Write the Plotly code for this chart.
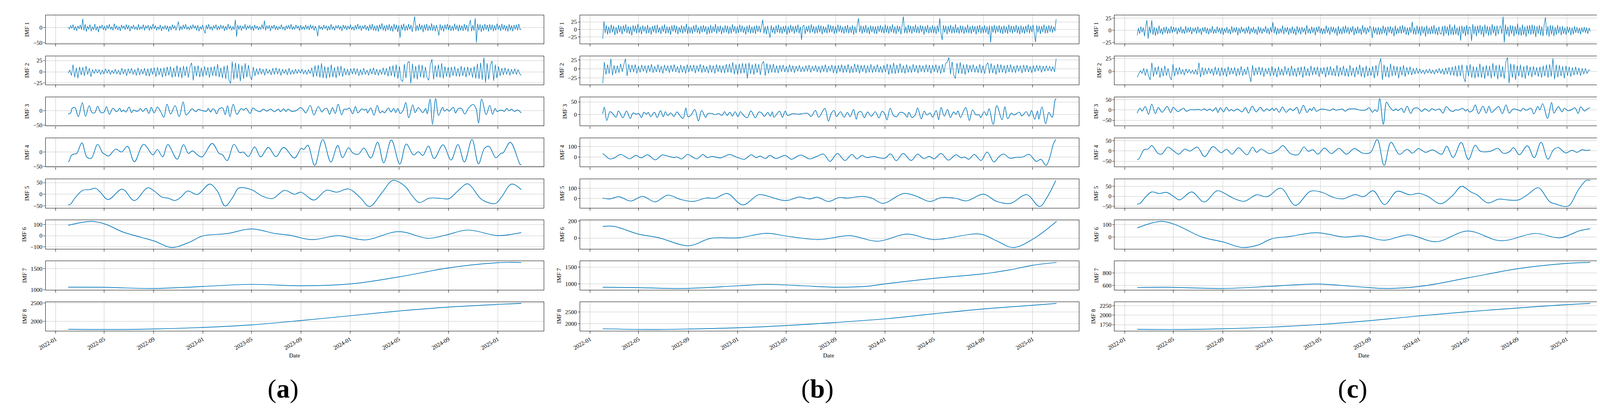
import pandas as pd
import plotly.graph_objects as go

# daily series, 2022-02-01 .. 2025-02-28
start = pd.Timestamp("2022-02-01")
end = pd.Timestamp("2025-02-28")

date_ticks = ["2022-01", "2022-05", "2022-09", "2023-01", "2023-05", "2023-09",
              "2024-01", "2024-05", "2024-09", "2025-01"]
imf_names = ["IMF 1", "IMF 2", "IMF 3", "IMF 4", "IMF 5", "IMF 6", "IMF 7", "IMF 8"]
panel_names = ["a", "b", "c"]

# ---------------- panel (a) ----------------
# IMF 1 / IMF 2: evenly spaced samples over the whole period
a_imf1 = [2, -5, 7, -3, 10, -8, 4, -11, 6, -4, 9, -7, 29, -9, 11, -13, 5, -6, 10, -12, 3, -7, 12, -9, 4,
          -15, 6, -3, 9, -7, 5, -10, 8, -4, 11, -6, 3, -9, 13, -5, 7, -8, 4, -11, 9, -3, 6, -7, 10, -5,
          8, -12, 5, -4, 9, -6, 3, -8, 11, -7, 4, -5, 10, -9, 6, -3, 8, -10, 5, -6, 12, -4, 7, -9, 3,
          -6, 9, -11, 4, -5, 8, -7, 6, -13, 5, -8, 10, -4, 7, -9, 6, 20, -10, 5, -7, 9, -4, 11, -6, 3,
          -8, 7, -5, 10, -3, 6, -9, 8, -12, 4, -6, 9, -7, -19, 8, -5, 11, -6, 4, -9, 7, -3, 10, -8, 5,
          -6, 9, -4, 7, -11, 5, -8, 12, -5, 6, -9, 4, -7, 26, -30, 9, -6, 7, -10, 5, -4, 11, -8, 6, -3,
          8, -7, 5, -10, 9, -4, 6, -8, 3, -6, 10, -5, 23, -9, 7, -4, 8, -11, 6, -3, 9, -7, 5, -8, 4,
          -5, 10, -6, 3, -9, 7, -4, 8, -5, 11, -7, 4, -6, 9, -3, 5, -10, 8, -6, 4, -7, 9, -5, 6, -8,
          10, -4, 7, -9, 5, -6, -28, 8, -5, 3, -7, 9, -4, 6, -10, 5, -8, 11, -6, 4, -9, 7, -3, 8, -6,
          5, -11, 9, -4, 7, -8, 6, -5, 10, -7, 3, -9, 8, -6, 12, -5, 7, -10, 6, -4, 9, -8, 5, -11, 10,
          -7, 12, -9, 6, -11, 8, -13, 10, -6, 14, -9, 7, -12, 9, -8, 11, -10, 6, -13, 12, -7, 9, -14, 8, -33,
          10, -8, 13, -11, 7, -9, 12, -6, 9, -14, 11, 37, -12, 8, -10, 13, -7, 9, -15, 10, -8, 12, -11, 7, -9,
          14, -10, 8, -12, 9, -7, -26, 11, -9, 7, -13, 10, -6, 12, -8, 9, -11, 6, -10, 13, -7, 8, -12, 10, -9,
          7, -11, 12, -8, 9, -13, 10, 25, -12, 8, -10, 31, -49, 13, -9, 11, -14, 8, -10, 12, -7, 9, -13, 11, -8,
          10, -12, 7, -9, 13, -6, 8, -11, 12, -7, 9, -10, 6, -13, 11, -8, 7, -12, 9, -6, 10, -9, 12, -7, -4]
a_imf2 = [-3, 4, -8, 16, -12, 9, -14, 11, -7, 10, -9, 13, -6, 8, -11, 5, -4, 6, -3, 5, -6, 4, -5, 7, -3,
          5, -6, 3, -4, 6, -5, 4, -7, 8, -5, 6, -9, 7, -4, 8, -6, 5, -8, 9, -7, 6, -5, 8, -9, 7,
          -10, 8, -6, 9, -11, 10, -7, 8, -12, 9, -10, 11, -8, 12, -13, 9, -11, 14, -12, 10, -14, 13, -9, 12, -13,
          11, 20, -19, 13, -10, 14, -12, 9, -11, 12, -8, 10, -13, 11, -9, 12, -10, 17, -12, 9, -14, 13, -16, 15, -18,
          -26, 23, -17, 20, -15, 18, -21, 14, -16, 19, -12, 15, -10, -18, 11, -9, 7, -6, 8, -5, 6, -8, 7, -4, 5,
          -7, 8, -6, 9, -5, 7, -8, 6, -4, 5, -7, 8, -6, 4, -5, 6, -4, 5, -3, 6, -5, 4, -6, 5, -4,
          9, -12, 14, -10, 15, -13, 19, -14, 12, -15, 11, -13, 16, -12, 10, -14, 12, -9, 13, -11, 8, -7, 6, -8, 7,
          -5, 8, -6, 7, -9, 5, -7, 8, -6, 4, -8, 7, -5, 9, -7, 6, -8, 5, -6, 9, -7, 8, -10, 12, -9,
          14, -12, 16, -15, 12, -18, -22, 17, -14, 20, 23, -26, 18, -15, 13, -17, 16, -12, 15, -14, 11, -13, -19, 16, 28,
          -17, 14, -12, 16, -13, 19, -15, 12, -11, 10, -13, 11, -9, 12, -10, 8, -11, 13, -9, 10, -12, 11, -8, 9, -13,
          12, -15, 18, -16, 20, -18, 32, -24, 19, -17, 15, 24, -20, 16, -14, 12, -9, 8, -7, 9, -6, 7, -8, 6, -5,
          7, -6, 5, -4, -8]
# IMF 3..8: (day since 2022-02-01, value) at turning points
a_imf3 = [(0, -12), (6, -8), (10, 8), (17, 10), (25, -21), (35, 27), (43, -20), (52, 17), (59, -7), (66, -7),
          (73, 15), (81, -7), (89, -5), (95, 14), (102, -13), (111, 8), (120, -4), (128, 8), (132, -4), (137, 2),
          (143, -5), (151, 12), (157, -7), (162, 2), (168, -2), (174, -1), (179, 7), (185, -3), (193, 8), (200, -10),
          (206, 11), (213, -8), (221, 12), (229, -3), (237, -23), (245, 22), (254, -12), (265, 17), (275, -21), (285, 30),
          (292, -15), (299, -7), (307, 6), (317, -4), (322, 4), (332, 0), (343, -2), (347, 7), (353, -5), (358, 6),
          (362, 4), (368, -11), (374, 6), (383, 9), (389, -14), (395, 17), (401, -21), (409, 22), (418, -13), (429, 7),
          (435, 2), (441, 8), (451, -10), (458, 9), (465, 2), (475, -4), (484, 5), (492, -2), (502, 5), (511, -4),
          (521, 5), (526, -4), (534, 6), (540, -3), (545, 5), (553, -2), (564, -1), (576, 10), (582, 4), (589, -8),
          (600, 18), (609, -15), (620, 14), (629, -5), (634, 4), (641, 8), (648, -13), (655, 10), (662, -10), (669, 22),
          (678, -15), (684, 5), (691, 4), (697, 9), (705, -11), (712, 14), (718, -8), (728, 6), (734, 2), (739, 5),
          (742, -8), (750, 9), (758, -16), (766, 18), (773, -8), (779, -2), (784, -8), (794, 9), (800, -5), (807, 7),
          (812, -7), (817, 7), (823, -10), (830, 0), (837, 28), (844, -25), (854, 20), (860, -7), (868, 10), (879, -7),
          (886, 7), (890, -11), (897, 39), (903, -48), (911, 42), (918, -17), (928, 11), (933, -2), (939, 5), (944, -2),
          (955, 11), (960, -8), (967, 7), (975, 7), (983, -12), (993, 10), (1004, 21), (1011, 7), (1017, -43), (1025, 40),
          (1036, -14), (1045, 18), (1052, -13), (1058, 7), (1063, -3), (1070, 1), (1076, 1), (1081, -3), (1087, 7), (1093, -1),
          (1099, 5), (1106, -3), (1114, 2), (1123, -8)]
a_imf4 = [(0, -34), (2, -32), (8, -12), (14, -7), (21, -5), (34, 32), (46, -17), (57, -22), (73, 27), (85, -2),
          (92, -9), (100, -14), (118, 10), (132, 0), (147, 20), (164, -34), (187, 27), (210, -10), (221, 9), (234, -17),
          (247, 26), (270, -25), (286, 26), (298, -5), (308, 4), (322, -12), (332, -17), (357, 30), (374, -5), (382, -9),
          (394, -30), (411, 27), (425, -2), (434, 0), (447, -16), (462, 18), (477, -17), (496, 16), (515, -16), (534, 16),
          (561, -21), (578, 13), (584, 9), (594, 24), (611, -47), (631, 44), (651, -35), (668, 23), (680, -20), (695, 15),
          (706, -4), (720, -7), (733, 14), (750, -21), (767, 34), (782, -38), (801, 42), (822, -42), (838, 28), (856, -10),
          (868, 1), (879, -12), (893, 21), (907, -23), (929, 25), (949, -28), (966, 26), (982, -35), (1001, 44), (1017, -41),
          (1032, 13), (1043, 20), (1060, -20), (1072, -5), (1078, -3), (1096, 34), (1120, -43), (1123, -45)]
a_imf5 = [(0, -45), (5, -44), (16, -18), (36, 17), (53, 20), (68, 26), (79, 10), (99, -23), (134, 22), (164, -27),
          (197, 28), (214, 13), (233, -13), (248, -17), (265, -27), (279, -13), (296, 14), (320, -1), (351, 44), (370, 13),
          (389, -51), (408, -13), (423, 27), (454, 20), (481, -8), (507, -18), (536, 17), (561, 0), (577, 9), (609, -25),
          (640, 17), (666, 9), (695, 23), (723, -13), (747, -53), (777, 5), (805, 60), (834, 36), (853, -7), (870, -36),
          (895, -17), (925, -18), (944, -19), (967, 16), (990, 45), (1026, -24), (1059, -40), (1074, -12), (1099, 44),
          (1123, 20)]
a_imf6 = [(0, 93), (58, 128), (93, 102), (136, 33), (213, -47), (256, -105), (299, -60), (333, -2), (394, 19),
          (454, 61), (514, 19), (548, 5), (604, -35), (669, 0), (737, -37), (819, 37), (892, -23), (935, 5),
          (991, 51), (1064, 2), (1123, 28)]
a_imf7 = [(0, 1062), (93, 1058), (213, 1030), (333, 1078), (454, 1128), (583, 1094), (703, 1140), (823, 1310),
          (944, 1520), (1064, 1640), (1095, 1648), (1123, 1645)]
a_imf8 = [(0, 1779), (110, 1772), (213, 1786), (333, 1829), (454, 1900), (578, 2021), (703, 2157), (823, 2286),
          (944, 2393), (1064, 2464), (1123, 2493)]
a_yticks = [[-50, 0], [-25, 0, 25], [-50, 0], [-50, 0], [-50, 0, 50], [-100, 0, 100], [1000, 1500], [2000, 2500]]

# ---------------- panel (b) ----------------
b_imf1 = [-31, 27, -12, 14, -17, 9, -13, 16, -10, 12, -19, 8, -14, 15, -9, 11, -16, 13, -7, 17, -12, 10, -15, 9, -20,
          14, -8, 12, -13, 18, -11, 9, -16, 13, -7, 10, -14, 15, -12, 8, -17, 11, -9, 14, -13, 16, -10, 7, -15, 12,
          -8, 17, -14, 10, -12, 9, -18, 13, -7, 15, -11, 12, -16, 8, -10, 14, -13, 11, -9, 19, -15, 10, -12, 8, -14,
          13, -9, 16, -11, 7, -15, 12, -10, 14, -8, 11, -17, 9, -13, 15, -12, 10, -8, 18, -14, 11, -9, 13, -16, 8,
          -11, 14, -10, 12, -15, 9, -13, 17, -8, 11, -14, 10, -12, 16, -9, 13, -11, 8, -17, 12, -10, 15, -13, 9, -12,
          11, -15, 14, -8, 12, -10, 9, 32, -13, 10, -16, 12, -9, -27, 14, -11, 8, -15, 13, -10, 16, -12, 9, -14, 11,
          -9, 13, -17, 10, -12, 15, -8, 11, -14, 12, -10, 16, -13, 9, -34, 11, 14, -15, 10, -8, 13, -12, 17, -9, 11,
          -14, 10, -12, 15, -9, 13, -16, 11, -10, 8, -13, 17, -11, 14, -9, 12, -15, 10, -12, 16, -8, 13, -11, 9, -14,
          12, -10, 15, -13, 9, -11, 14, -17, 10, -12, 16, 37, -9, 13, -14, 11, -10, 15, -12, 8, -16, 13, -9, 11, -13,
          10, -15, 12, -8, 14, -11, 9, -13, 16, -10, 12, -14, 11, -9, 17, -12, 10, -15, 13, -8, 11, -16, 14, 43, -12,
          9, -13, 15, -10, 12, -14, 11, -9, 16, -12, 10, -13, 14, -8, 12, -17, 11, -10, 15, -13, 9, -11, 14, -12, 10,
          -15, 13, -9, 37, -12, -35, 14, -10, 12, -16, 11, -9, 15, -13, 10, -12, 17, -11, 8, -14, 13, -10, 12, -15, 9,
          -11, 16, -12, 10, -14, 13, -9, 11, -16, 12, -10, 15, -13, 9, -12, 14, -11, 10, -17, 13, -43, 12, -10, 15, -13,
          11, -9, 14, -12, 10, -15, 13, -11, 9, -14, 16, -10, 12, -13, 11, -9, 15, -12, 10, -16, 13, -11, 9, -14, 12,
          -10, 17, -13, 11, -9, 15, -12, -42, 14, -10, 12, -15, 11, -9, 16, -13, 10, -12, 14, -8, 13, -11, 9, -6, 34]
b_imf2 = [-41, 19, -16, 12, -14, 28, -18, 10, -13, 9, -11, 14, -8, 12, 28, -20, 13, -10, 11, -9, 12, -13, 8, -10, 11,
          -7, 9, -12, 10, -8, 13, -11, 7, -9, 12, -10, 8, -13, 11, -6, 9, -11, 10, -8, 12, -9, 7, -12, 11, -10,
          8, -13, 12, -9, 10, -7, 11, -12, 9, -8, 13, -11, 10, -9, 7, -12, 11, -10, 9, -13, 12, -8, 10, -11, 9,
          -12, 13, -10, 14, -11, 18, -15, 12, -16, 14, -13, 16, -12, 15, -27, 17, -14, 12, -16, 15, -11, 13, -17, 14, 21,
          -19, 15, -13, 12, -10, 14, -11, 9, -12, 10, -8, 11, -9, 7, -10, 12, -8, 9, -11, 8, -7, 10, -9, 6, -8,
          9, -7, 11, -10, 8, -6, 10, -9, 7, -11, 9, -8, 12, -10, 8, -7, 11, -12, 9, -13, 10, -8, 12, -11, 9,
          -10, 13, -12, 8, -11, 14, -9, 12, -13, 10, -8, 11, -12, 9, -10, 13, -11, 8, -9, 12, -10, 7, -11, 10, -9,
          14, -16, 12, -13, 17, -14, 11, -12, 15, -11, 9, -13, 12, -10, 8, -11, 13, -9, 10, -12, 11, -8, 9, -10, 12,
          -9, 11, -13, 10, -8, 12, -11, 9, -14, 13, -10, 15, 19, 32, -15, 20, -18, -27, 16, -13, 18, -14, 12, -16, 13,
          -11, 10, -9, 12, -10, 8, -11, 13, -12, 9, -14, 11, 17, -13, 15, -12, 10, -16, 14, -11, 12, -10, 9, -13, 11,
          -9, 12, -10, 8, -11, 10, -7, 9, -12, 11, -8, 10, -9, 7, -11, 9, -8, 10, -6, 9, -10, 8, -7, 9, -6,
          8, -7, 6, -9, 28]
b_imf3 = [(0, 3), (4, 29), (10, -24), (18, 11), (25, 3), (33, -11), (39, 14), (50, -13), (59, 14), (68, -16),
          (75, 6), (83, 1), (89, 4), (96, -12), (102, 9), (108, 1), (113, 8), (119, -9), (128, 9), (135, -12),
          (143, 15), (150, -9), (155, 11), (161, -4), (169, 6), (176, -8), (184, 10), (190, -2), (199, -16), (206, 26),
          (211, -9), (218, -4), (228, 20), (237, -26), (245, 16), (255, -12), (260, 3), (270, 4), (279, -1), (287, 4),
          (295, -4), (302, 11), (308, -4), (315, 9), (321, -7), (328, 11), (335, -9), (341, 11), (349, -4), (358, -13),
          (367, 14), (378, -13), (387, 10), (395, 4), (400, -8), (409, 8), (415, -7), (420, 11), (424, -11), (438, 13),
          (445, -11), (452, 13), (458, -4), (470, 3), (485, 1), (497, 4), (508, 4), (516, -8), (527, 16), (535, -11),
          (550, 24), (559, -27), (566, 4), (573, 16), (579, -8), (589, 11), (598, -11), (606, 8), (613, -9), (621, 20),
          (628, -19), (633, 8), (640, 11), (648, -13), (656, 10), (665, -7), (675, 11), (684, -14), (692, 13), (699, 1),
          (704, -22), (712, 25), (720, -4), (728, -9), (736, 8), (747, 4), (754, -11), (758, 9), (766, -12), (774, -2),
          (780, 26), (789, -18), (796, 13), (803, -2), (811, 6), (817, -11), (826, 16), (832, -21), (838, 28), (846, -7),
          (854, 20), (861, -12), (869, 10), (875, 1), (880, 14), (886, -12), (899, 28), (908, -24), (916, 18), (924, -1),
          (933, -2), (936, -13), (945, 11), (951, -4), (957, 23), (967, -40), (976, 35), (989, -21), (996, 31), (1003, -17),
          (1012, 5), (1019, -2), (1032, 9), (1038, -6), (1049, 11), (1056, -7), (1062, 16), (1070, -19), (1077, 14), (1080, -19),
          (1088, 30), (1097, -37), (1105, 8), (1113, -11), (1120, 55), (1123, 64)]
b_imf4 = [(0, 34), (6, 16), (17, -18), (29, -8), (44, 25), (67, -17), (82, 16), (95, -8), (111, 22), (130, -27),
          (147, 19), (158, 13), (177, -5), (183, 1), (196, -18), (210, 25), (233, -18), (248, 24), (259, -5), (271, 6),
          (292, -8), (314, 24), (334, -5), (351, -21), (368, 22), (380, -6), (390, 10), (403, -15), (414, 16), (429, -15),
          (452, 16), (467, -21), (490, 19), (513, -18), (530, 6), (547, 28), (563, -42), (581, 34), (600, -33), (617, 25),
          (630, -18), (642, 16), (654, -5), (671, 6), (682, -5), (699, -11), (713, 30), (727, -35), (744, 34), (764, -33),
          (780, 28), (795, -15), (809, 6), (821, -17), (838, 34), (856, -30), (875, 22), (888, -8), (896, 0), (907, -21),
          (920, 25), (937, -33), (952, 48), (969, -47), (982, 6), (994, 28), (1008, -11), (1025, -2), (1040, 0), (1056, 25),
          (1074, -42), (1085, -21), (1098, -81), (1107, -8), (1116, 124), (1122, 169)]
b_imf5 = [(0, 5), (17, -4), (40, 18), (69, -25), (99, 21), (130, -33), (161, 34), (192, -8), (224, -29), (257, 6),
          (279, 3), (308, 50), (347, -63), (386, 38), (405, 28), (443, -16), (459, -18), (487, 15), (512, -4), (531, 13),
          (560, -29), (585, 10), (606, 5), (644, 21), (667, 3), (694, -48), (745, 50), (774, 28), (810, -29), (838, 9),
          (873, 3), (901, -23), (943, 43), (976, -29), (1010, -48), (1050, 38), (1082, -79), (1101, 15), (1122, 180)]
b_imf6 = [(0, 138), (28, 138), (88, 47), (139, 3), (213, -91), (268, -3), (337, 3), (406, 56), (458, 21),
          (535, -18), (612, 27), (681, -38), (754, 47), (819, -18), (935, 47), (974, -30), (1017, -112), (1068, -5),
          (1124, 197)]
b_imf7 = [(0, 902), (96, 886), (200, 864), (337, 947), (406, 985), (492, 947), (578, 902), (655, 930),
          (699, 1000), (820, 1167), (943, 1303), (1008, 1420), (1066, 1560), (1124, 1644)]
b_imf8 = [(0, 1787), (114, 1755), (217, 1777), (337, 1830), (458, 1926), (578, 2053), (703, 2213), (823, 2426),
          (944, 2628), (1068, 2787), (1124, 2862)]
b_yticks = [[-25, 0, 25], [-25, 0, 25], [0, 50], [0, 100], [0, 100], [0, 200], [1000, 1500], [2000, 2500]]

# ---------------- panel (c) ----------------
c_imf1 = [-10, 5, -7, 8, -4, 6, -12, 9, 21, -17, 8, -6, 21, -9, 7, -11, 5, -8, 10, -6, 4, -9, 7, -5, 8,
          -7, 4, -6, 9, -5, 7, -3, 6, -8, 5, -4, 8, -6, 3, -7, 9, -5, 6, -4, 7, -8, 5, -3, 6, -7,
          8, -5, 4, -9, 6, -3, 7, -6, 5, -8, 4, -5, 9, -7, 3, -6, 8, -4, 5, -7, 6, -9, 4, -5, 7,
          -6, 3, -8, 9, -5, 6, -4, 7, -10, 5, -6, 8, -3, 4, -7, 6, -5, 9, -8, 5, -4, 7, -6, 3, -9,
          8, -5, 6, -7, 4, -3, 9, -6, 5, -8, 7, -4, 17, -6, 8, -9, 5, -7, 4, -5, 10, -8, 6, -4, 7,
          -9, 5, -6, 8, -7, 4, -10, 9, -5, 6, -8, 7, -4, 5, -9, 11, -6, 4, -7, 8, -5, 6, -10, 7, -4,
          9, -6, 5, -8, 4, -7, 10, -5, 6, -9, 8, -4, 7, -6, 5, -11, 9, -7, 4, -8, 8, -6, 10, -5, 7,
          -8, 6, -4, 9, -10, 5, -7, 8, -6, 4, -9, 11, -5, 7, -8, 6, -4, 9, 5, -16, 8, -6, 6, -9, 7,
          -9, 5, -8, 10, -6, 7, -11, 8, -5, 9, -7, 6, -12, 10, -8, 5, -6, 9, -7, 11, -5, 8, -9, 6, -10,
          7, -5, 18, -8, 6, -9, 10, -7, 8, -11, 9, -6, 7, -13, 10, -8, 6, -8, 9, -7, 11, -8, 5, -10, 8,
          -6, -8, 9, -12, 10, -7, 8, -11, 13, -9, 7, -10, 12, -8, 6, -11, 9, -21, 10, -7, 8, -12, 11, -9, 7,
          6, -22, 13, -8, 9, -12, 10, -6, 11, -9, 8, -14, 12, -7, 9, -11, 8, -10, 13, -6, 9, -12, 10, -8, 7,
          9, -7, 29, -25, 12, -9, 8, -13, 11, -7, 10, -12, 9, -8, 14, -10, 7, -11, 12, -9, 8, -13, 10, -7, 11,
          -9, 12, -8, 10, -14, 9, -7, 11, -10, 8, -12, 13, 27, -10, 9, -13, 11, -8, 10, -12, 7, -9, 11, -6, 8,
          -10, 9, -7, 6, -9, 8, -5, 7, -10, 6, -8, 9, -5, 7, -6, 5, -8, 6, -4, 7, -5, 6, -7, 5, -2]
c_imf2 = [-11, -5, 2, -4, 6, -8, 5, -9, -16, 17, -10, 8, -6, 10, -12, 7, -9, 11, -8, 6, -10, -16, 14, -9, 7,
          -6, 8, -5, 4, -7, 5, -3, 4, -4, 3, -5, 4, -6, 17, -11, 8, -7, 6, -5, 7, -4, 5, -8, 9, -6,
          7, -9, 8, -7, 6, -10, 9, -6, 7, -5, 8, -9, 6, -7, 10, -8, 5, -6, 9, -7, -20, 12, -8, 7, -6,
          9, -7, 8, -10, 6, -5, 7, -9, 10, -8, 6, -11, 9, -7, 5, -8, 10, -6, 7, -9, 11, -8, 6, -10, 8,
          -7, 9, -12, 10, -8, 6, -9, 11, -7, 8, -6, 9, -10, 7, -5, 8, -11, 9, -7, 10, -8, 6, -9, 12, -10,
          8, -7, 11, -9, 6, -10, 12, -8, 7, -11, 9, -6, 13, -10, 8, -12, 11, -9, 7, -8, 10, -13, 12, -9, 14,
          25, -16, 13, -10, 9, -12, 15, -9, 11, -8, 10, -13, 9, -7, 12, -10, 8, -6, 9, -7, 6, -5, 7, -4, 5,
          -4, 3, -5, 4, -3, 5, -4, 3, -5, 4, -3, 6, -4, 5, -6, 7, -5, 8, -7, 9, -8, 11, -10, 12, -9,
          13, -11, -20, 12, -9, 14, -12, 10, -13, 9, -11, 15, -12, 10, -14, 12, -9, 11, -13, 16, -10, 12, -15, 13, -11,
          10, -14, 18, 27, -23, 15, -12, 14, -16, 11, -9, 13, -12, 10, -14, 12, -8, 9, -11, 10, -7, 8, -10, 9, -12,
          11, -9, 13, -12, 14, -10, 25, -15, 13, -11, 12, -9, 10, -13, 11, -8, 9, -10, 8, -7, 9, -6, 7, -8, 6,
          -5, 6, -4, 3, 2]
c_imf3 = [(0, -15), (7, 9), (12, -5), (20, 17), (28, -21), (36, 29), (45, -18), (52, 12), (62, -11), (74, 18),
          (83, -13), (89, 13), (101, -8), (108, 1), (115, 9), (121, -6), (131, 1), (142, 1), (152, 3), (159, -1),
          (167, 6), (173, -3), (180, 5), (187, -5), (195, 11), (200, -12), (206, 11), (214, -9), (221, 13), (228, -5),
          (233, 3), (239, -5), (248, 5), (260, -9), (268, 12), (276, -15), (285, 19), (295, -9), (305, 13), (314, -6),
          (321, 6), (328, -3), (335, 9), (339, -3), (344, 9), (352, -11), (360, 15), (369, -11), (379, 7), (386, -3),
          (396, 13), (402, -18), (412, 23), (421, -12), (428, 7), (432, -3), (438, 13), (444, -7), (451, 1), (457, 5),
          (470, 1), (478, -3), (485, 6), (493, -1), (508, 5), (516, -6), (522, 3), (539, 6), (554, -1), (566, 0),
          (575, 11), (583, -11), (589, 1), (595, -7), (601, 57), (610, -71), (618, 39), (625, 17), (635, -3), (641, 6),
          (646, -3), (655, 9), (661, -12), (669, 19), (678, -17), (685, 7), (696, 9), (705, -7), (713, 6), (724, -6),
          (730, 7), (739, -1), (749, 5), (758, -15), (766, 17), (776, -3), (783, -7), (789, 1), (796, -1), (807, 9),
          (814, -5), (819, 3), (823, -9), (831, -3), (838, 25), (846, -18), (857, 19), (865, -15), (872, 19), (878, -12),
          (888, 5), (896, 17), (905, -18), (914, 25), (922, -15), (932, 5), (943, 1), (951, -5), (956, 9), (964, -1),
          (976, 9), (983, -19), (993, 17), (998, 1), (1005, 31), (1017, -41), (1027, 37), (1033, -15), (1044, 17), (1053, -9),
          (1059, 9), (1067, -3), (1076, 1), (1085, 11), (1093, -17), (1099, 15), (1109, -5), (1116, 6), (1123, 11)]
c_imf4 = [(0, -42), (4, -39), (17, 6), (27, 9), (36, 26), (52, -13), (61, -15), (76, 18), (89, 2), (103, -16),
          (118, 9), (130, -1), (149, 18), (167, -28), (188, 21), (208, -9), (221, 8), (235, -16), (251, 15), (272, -19),
          (286, 18), (296, -7), (307, 9), (328, -13), (349, 5), (361, 26), (380, -13), (399, -18), (413, 19), (424, -2),
          (435, 6), (448, -16), (464, 14), (481, -13), (500, 12), (519, -16), (538, 11), (559, -11), (578, -8), (595, 56),
          (612, -71), (629, 42), (650, -17), (669, 8), (682, -11), (697, 11), (715, -7), (732, 5), (755, -16), (767, 23),
          (783, -32), (803, 41), (821, -42), (838, 28), (850, -1), (873, -3), (894, 12), (907, -11), (922, -5), (933, 16),
          (947, -19), (967, 25), (984, -33), (1001, 42), (1018, -40), (1032, 6), (1044, 16), (1062, -10), (1078, 3), (1090, -7),
          (1103, 6), (1113, 2), (1123, 5)]
c_imf5 = [(0, -39), (6, -37), (21, -3), (36, 22), (55, 14), (72, 20), (90, 0), (105, -18), (135, 22), (166, -28),
          (198, 28), (219, 12), (235, -6), (265, -25), (296, 8), (322, -2), (356, 41), (392, -45), (429, 25), (458, 20),
          (487, -6), (511, -12), (540, 9), (561, -2), (585, 28), (613, -41), (644, 25), (675, 8), (699, 15), (720, 0),
          (752, -37), (781, 3), (804, 50), (827, 22), (842, 8), (869, -33), (896, -14), (918, -18), (945, -18), (968, 9),
          (994, 43), (1023, -28), (1040, -40), (1059, -51), (1071, -46), (1094, 34), (1113, 80), (1123, 80)]
c_imf6 = [(0, 73), (58, 125), (92, 102), (161, 0), (213, -39), (260, -83), (299, -64), (333, -14), (376, 4),
          (445, 35), (514, 0), (557, 10), (612, -25), (673, 17), (741, -37), (819, 48), (901, -29), (987, 29),
          (1047, -6), (1098, 52), (1123, 67)]
c_imf7 = [(0, 569), (75, 573), (212, 553), (333, 588), (445, 624), (548, 580), (617, 553), (703, 588),
          (823, 725), (943, 866), (1064, 949), (1123, 965)]
c_imf8 = [(0, 1628), (101, 1622), (212, 1641), (333, 1686), (453, 1756), (578, 1859), (698, 1981), (823, 2096),
          (943, 2192), (1064, 2282), (1123, 2314)]
c_yticks = [[-25, 0, 25], [0, 25], [-50, 0, 50], [-50, 0, 50], [-50, 0, 50], [0, 100], [600, 800], [1750, 2000, 2250]]

panels = [
    [a_imf1, a_imf2, a_imf3, a_imf4, a_imf5, a_imf6, a_imf7, a_imf8],
    [b_imf1, b_imf2, b_imf3, b_imf4, b_imf5, b_imf6, b_imf7, b_imf8],
    [c_imf1, c_imf2, c_imf3, c_imf4, c_imf5, c_imf6, c_imf7, c_imf8],
]
yticks = [a_yticks, b_yticks, c_yticks]


def series_xy(values):
    if isinstance(values[0], tuple):
        days = [d for d, _ in values]
        ys = [v for _, v in values]
        xs = start + pd.to_timedelta(days, unit="D")
    else:
        ys = list(values)
        xs = pd.date_range(start, end, periods=len(values))
    return xs, ys


# page geometry in pixels; the html body keeps its default 8px margin
W, H = 4159, 1061
OFF = 8
PW, PH = W - 2 * OFF, H - 2 * OFF
col_px = [(97, 1379), (1472, 2755), (2847, 4129)]
row_top0, row_step, row_h = 34, 106.4, 74.5
line_blue = "#0077BB"
grid_grey = "#c8c8c8"
font_family = "Liberation Serif"


def px_x(x):
    return (x - OFF) / PW


def px_y(y):
    return 1 - (y - OFF) / PH


pad = (end - start) * 0.05
x_range = [start - pad, end + pad]
tick_dates = [pd.Timestamp(t + "-01") for t in date_ticks]

fig = go.Figure()
layout = {}
for p in range(3):
    for r in range(8):
        n = p * 8 + r + 1
        xs, ys = series_xy(panels[p][r])
        smooth = r >= 2
        fig.add_trace(go.Scatter(
            x=xs, y=ys, mode="lines",
            line=dict(color=line_blue, width=1.7 if smooth else 1.3,
                      shape="spline" if smooth else "linear"),
            xaxis="x%d" % n, yaxis="y%d" % n, hoverinfo="skip", showlegend=False))

        lo, hi = min(ys), max(ys)
        span = hi - lo
        top = row_top0 + row_step * r
        x0, x1 = col_px[p]
        layout["xaxis%d" % n] = dict(
            domain=[px_x(x0), px_x(x1)], anchor="y%d" % n, range=x_range,
            tickvals=tick_dates, ticktext=date_ticks, showticklabels=(r == 7),
            tickangle=-30, ticks="outside", ticklen=6, tickwidth=1.2, tickcolor="black",
            tickfont=dict(size=15),
            showgrid=True, gridcolor=grid_grey, gridwidth=1, zeroline=False,
            showline=True, mirror=True, linecolor="black", linewidth=1.3)
        layout["yaxis%d" % n] = dict(
            domain=[px_y(top + row_h), px_y(top)], anchor="x%d" % n,
            range=[lo - 0.05 * span, hi + 0.05 * span],
            tickvals=yticks[p][r], ticks="outside", ticklen=4, tickwidth=1.2, tickcolor="black",
            tickfont=dict(size=15),
            showgrid=True, gridcolor=grid_grey, gridwidth=1, zeroline=False,
            showline=True, mirror=True, linecolor="black", linewidth=1.3,
            title=dict(text=imf_names[r], standoff=6, font=dict(size=15)))

date_label_x = [738, 2112, 3488]
panel_label_x = [708, 2083, 3460]
annotations = []
for p in range(3):
    annotations.append(dict(text="Date", x=px_x(date_label_x[p]), y=px_y(917),
                            xref="paper", yref="paper", showarrow=False,
                            font=dict(size=15), xanchor="center", yanchor="middle"))
    annotations.append(dict(text="(<b>%s</b>)" % panel_names[p], x=px_x(panel_label_x[p]), y=px_y(1003),
                            xref="paper", yref="paper", showarrow=False,
                            font=dict(size=68), xanchor="center", yanchor="middle"))

fig.update_layout(
    width=PW, height=PH, margin=dict(l=0, r=0, t=0, b=0),
    paper_bgcolor="white", plot_bgcolor="white",
    font=dict(family=font_family, size=15, color="black"),
    showlegend=False, annotations=annotations, **layout)

fig.write_html("out.html")
